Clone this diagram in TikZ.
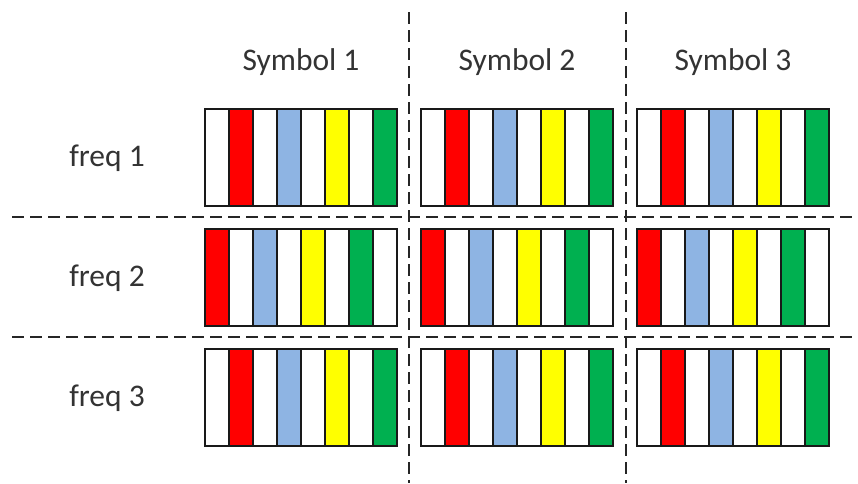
\documentclass[tikz,border=0pt]{standalone}
\usepackage{fontspec}
\setmainfont{Carlito}
\usetikzlibrary{positioning}

\definecolor{cred}{HTML}{FF0000}
\definecolor{cblue}{HTML}{8EB4E3}
\definecolor{cyellow}{HTML}{FFFF00}
\definecolor{cgreen}{HTML}{00B050}
\definecolor{ctext}{HTML}{333333}

% one block of eight sub-carrier stripes: left, top, colours
\newcommand{\stripebox}[3]{%
  \foreach \c [count=\i from 0] in {#3}
    \filldraw[stripe, fill=\c] (#1+24*\i, #2) rectangle ++(24, 97);
}

\begin{document}
\begin{tikzpicture}[
    x=1pt, y=-1pt,
    lbl/.style={font=\fontsize{31.5}{36}\selectfont, text=ctext, inner sep=0pt},
    sep/.style={line width=1.4pt, draw=black!85, dash pattern=on 12pt off 6pt},
    stripe/.style={draw=black!90, line width=1.3pt}
]
    \useasboundingbox (0,0) rectangle (858,483);

    % symbols
    \node[lbl] (sym1) at (301,62) {Symbol 1};
    \node[lbl] (sym2) at (517,62) {Symbol 2};
    \node[lbl] (sym3) at (733,62) {Symbol 3};

    % frequencies
    \node[lbl] (f1) at (107,158) {freq 1};
    \node[lbl] (f2) at (107,278) {freq 2};
    \node[lbl] (f3) at (107,398) {freq 3};

    % freq 1
    \stripebox{205}{109}{white,cred,white,cblue,white,cyellow,white,cgreen}
    \stripebox{421}{109}{white,cred,white,cblue,white,cyellow,white,cgreen}
    \stripebox{637}{109}{white,cred,white,cblue,white,cyellow,white,cgreen}

    % freq 2
    \stripebox{205}{229}{cred,white,cblue,white,cyellow,white,cgreen,white}
    \stripebox{421}{229}{cred,white,cblue,white,cyellow,white,cgreen,white}
    \stripebox{637}{229}{cred,white,cblue,white,cyellow,white,cgreen,white}

    % freq 3
    \stripebox{205}{349}{white,cred,white,cblue,white,cyellow,white,cgreen}
    \stripebox{421}{349}{white,cred,white,cblue,white,cyellow,white,cgreen}
    \stripebox{637}{349}{white,cred,white,cblue,white,cyellow,white,cgreen}

    % separators
    \coordinate (v1t) at (409,12);  \coordinate (v1b) at (409,483);
    \coordinate (v2t) at (626,12);  \coordinate (v2b) at (626,483);
    \coordinate (h1l) at (12,217);  \coordinate (h1r) at (858,217);
    \coordinate (h2l) at (12,337);  \coordinate (h2r) at (858,337);
    \draw[sep] (v1t) -- (v1b);
    \draw[sep] (v2t) -- (v2b);
    \draw[sep] (h1l) -- (h1r);
    \draw[sep] (h2l) -- (h2r);

\end{tikzpicture}
\end{document}
